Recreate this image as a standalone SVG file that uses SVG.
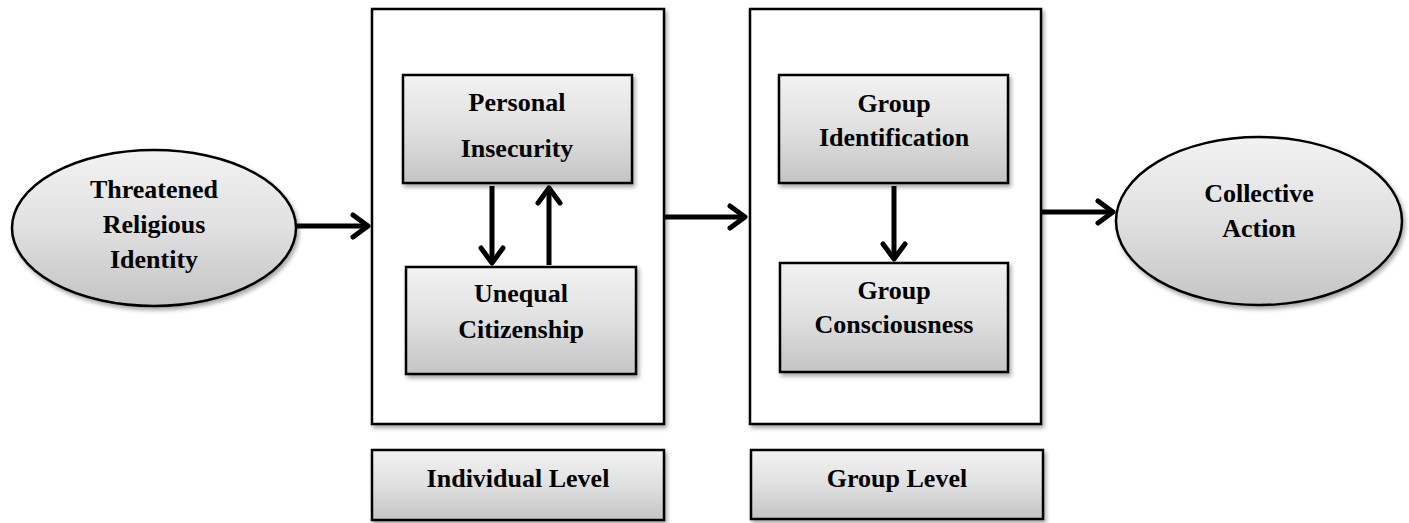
<svg xmlns="http://www.w3.org/2000/svg" width="1409" height="523" viewBox="0 0 1409 523">
<style>
.box{stroke:#000;stroke-width:2.5;fill:url(#g);filter:url(#sh)}
.outer{stroke:#000;stroke-width:2.5;fill:#fff;filter:url(#sh)}
.t{font-family:"Liberation Serif","Times New Roman",serif;font-weight:bold;font-size:26px;fill:#000;text-anchor:middle}
.c{stroke:#000;stroke-width:5;fill:none;marker-end:url(#ah)}
</style>
<defs>
<linearGradient id="g" x1="0" y1="0" x2="0" y2="1">
<stop offset="0" stop-color="#f2f2f2"/>
<stop offset="0.5" stop-color="#e0e0e0"/>
<stop offset="1" stop-color="#c4c4c4"/>
</linearGradient>
<filter id="sh" x="-10%" y="-10%" width="125%" height="130%">
<feDropShadow dx="2" dy="3" stdDeviation="2" flood-color="#000" flood-opacity="0.35"/>
</filter>
<marker id="ah" markerUnits="userSpaceOnUse" viewBox="-24 -16 30 32" refX="0" refY="0" markerWidth="30" markerHeight="32" orient="auto">
<path d="M -15 -11 L 0 0 L -15 11" fill="none" stroke="#000" stroke-width="5" stroke-linecap="round" stroke-linejoin="round"/>
</marker>
</defs>
<rect width="1409" height="523" fill="#fff"/>
<g id="individual-container"><rect class="outer" x="372" y="9" width="292" height="415"/></g>
<g id="group-container"><rect class="outer" x="750" y="9" width="291" height="415"/></g>
<g id="threatened"><ellipse class="box" cx="154" cy="228" rx="142" ry="78"/>
<text class="t" x="154" y="198">Threatened</text><text class="t" x="154" y="233">Religious</text><text class="t" x="154" y="268">Identity</text></g>
<g id="personal"><rect class="box" x="403" y="75" width="229" height="108"/>
<text class="t" x="517" y="111">Personal</text><text class="t" x="517" y="157">Insecurity</text></g>
<g id="unequal"><rect class="box" x="406" y="267" width="230" height="107"/>
<text class="t" x="521" y="302">Unequal</text><text class="t" x="521" y="338">Citizenship</text></g>
<g id="identification"><rect class="box" x="779" y="75" width="229" height="108"/>
<text class="t" x="894" y="112">Group</text><text class="t" x="894" y="146">Identification</text></g>
<g id="consciousness"><rect class="box" x="780" y="263" width="228" height="109"/>
<text class="t" x="894" y="299">Group</text><text class="t" x="894" y="333">Consciousness</text></g>
<g id="collective"><ellipse class="box" cx="1259" cy="221" rx="143" ry="84"/>
<text class="t" x="1259" y="202">Collective</text><text class="t" x="1259" y="237">Action</text></g>
<g id="individual-level"><rect class="box" x="372" y="450" width="292" height="70"/>
<text class="t" x="518" y="487">Individual Level</text></g>
<g id="group-level"><rect class="box" x="751" y="450" width="292" height="69"/>
<text class="t" x="897" y="487">Group Level</text></g>
<g id="connectors">
<line class="c" x1="297" y1="226" x2="368" y2="226"/>
<line class="c" x1="664" y1="217" x2="745" y2="217"/>
<line class="c" x1="1042" y1="212" x2="1113" y2="212"/>
<line class="c" x1="492" y1="186" x2="492" y2="263"/>
<line class="c" x1="549" y1="265" x2="549" y2="188"/>
<line class="c" x1="894" y1="186" x2="894" y2="259"/>
</g>
</svg>
